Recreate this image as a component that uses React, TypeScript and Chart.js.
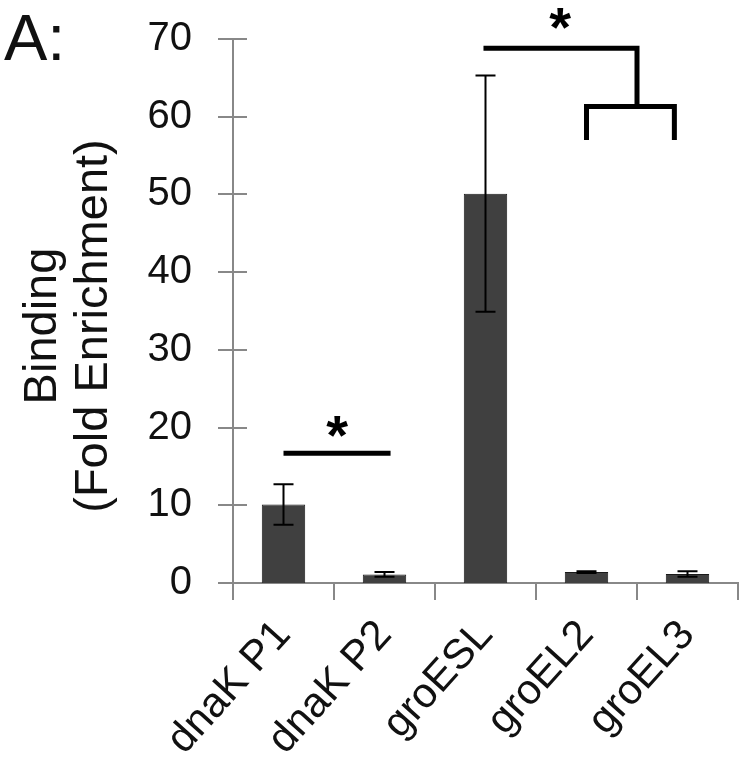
import React, { useEffect, useRef } from 'react';
import { Chart, registerables } from 'chart.js';

Chart.register(...registerables);

// ---- data ----
const categories = ['dnaK P1', 'dnaK P2', 'groESL', 'groEL2', 'groEL3'];
const bindingValues = [10.1, 1.1, 50.1, 1.4, 1.15];
const errorValues = [2.6, 0.3, 15.2, 0.1, 0.35];
const yMin = 0;
const yMax = 70;
const yStep = 10;
const panelLabel = 'A:';
const yTitleLines = ['Binding', '(Fold Enrichment)'];
const starText = '*';
// significance marks, in data units (category index, value)
const sigLine1 = { x0: 0, x1: 1.06, y: 16.7 };
const bracketTop = { x0: 1.98, x1: 3.5, y: 68.8 };
const bracketLow = { x0: 3.0, x1: 3.87, y: 61.3, legEnd: 57.0 };

const FONT = '"Liberation Sans", Arial, sans-serif';
const AXIS_COLOR = '#888888';
const TEXT_COLOR = '#111111';

const overlayPlugin = {
  id: 'overlay',
  afterDatasetsDraw(chart: any) {
    const ctx = chart.ctx as CanvasRenderingContext2D;
    const xs = chart.scales.x;
    const ys = chart.scales.y;
    const area = chart.chartArea;
    ctx.save();

    // axis tick marks
    ctx.strokeStyle = AXIS_COLOR;
    ctx.lineWidth = 2;
    for (let v = yMin; v <= yMax; v += yStep) {
      const y = Math.round(ys.getPixelForValue(v));
      ctx.beginPath();
      ctx.moveTo(area.left - 15, y);
      ctx.lineTo(area.left + 14, y);
      ctx.stroke();
    }
    for (let k = 0; k <= categories.length; k++) {
      const x = Math.round(xs.getPixelForValue(k - 0.5));
      ctx.beginPath();
      ctx.moveTo(x, area.bottom);
      ctx.lineTo(x, area.bottom + 17);
      ctx.stroke();
    }

    // error bars
    ctx.strokeStyle = '#000';
    ctx.lineWidth = 2;
    bindingValues.forEach((v, i) => {
      const e = errorValues[i];
      const x = xs.getPixelForValue(i);
      const yt = ys.getPixelForValue(v + e);
      const yb = ys.getPixelForValue(v - e);
      ctx.beginPath();
      ctx.moveTo(x, yt);
      ctx.lineTo(x, yb);
      ctx.moveTo(x - 10, yt);
      ctx.lineTo(x + 10, yt);
      ctx.moveTo(x - 10, yb);
      ctx.lineTo(x + 10, yb);
      ctx.stroke();
    });

    // significance lines
    ctx.strokeStyle = '#000';
    ctx.lineWidth = 5;
    ctx.lineCap = 'butt';
    ctx.beginPath();
    ctx.moveTo(xs.getPixelForValue(sigLine1.x0), ys.getPixelForValue(sigLine1.y));
    ctx.lineTo(xs.getPixelForValue(sigLine1.x1), ys.getPixelForValue(sigLine1.y));
    ctx.stroke();

    ctx.lineJoin = 'miter';
    ctx.beginPath();
    ctx.moveTo(xs.getPixelForValue(bracketTop.x0), ys.getPixelForValue(bracketTop.y));
    ctx.lineTo(xs.getPixelForValue(bracketTop.x1), ys.getPixelForValue(bracketTop.y));
    ctx.lineTo(xs.getPixelForValue(bracketTop.x1), ys.getPixelForValue(bracketLow.y));
    ctx.stroke();
    ctx.beginPath();
    ctx.moveTo(xs.getPixelForValue(bracketLow.x0), ys.getPixelForValue(bracketLow.legEnd));
    ctx.lineTo(xs.getPixelForValue(bracketLow.x0), ys.getPixelForValue(bracketLow.y));
    ctx.lineTo(xs.getPixelForValue(bracketLow.x1), ys.getPixelForValue(bracketLow.y));
    ctx.lineTo(xs.getPixelForValue(bracketLow.x1), ys.getPixelForValue(bracketLow.legEnd));
    ctx.stroke();

    // stars
    ctx.fillStyle = '#000';
    ctx.font = `bold 56px ${FONT}`;
    ctx.textAlign = 'center';
    ctx.textBaseline = 'alphabetic';
    ctx.fillText(
      starText,
      xs.getPixelForValue((sigLine1.x0 + sigLine1.x1) / 2),
      ys.getPixelForValue(sigLine1.y) + 1
    );
    ctx.fillText(
      starText,
      xs.getPixelForValue((bracketTop.x0 + bracketTop.x1) / 2),
      ys.getPixelForValue(bracketTop.y) - 2
    );

    // y title (two rotated lines)
    ctx.fillStyle = TEXT_COLOR;
    ctx.font = `47px ${FONT}`;
    const cy = (area.top + area.bottom) / 2 + 15;
    const baselines = [56, 107];
    yTitleLines.forEach((line, i) => {
      ctx.save();
      ctx.translate(baselines[i], cy);
      ctx.rotate(-Math.PI / 2);
      ctx.textAlign = 'center';
      ctx.textBaseline = 'alphabetic';
      ctx.fillText(line, 0, 0);
      ctx.restore();
    });

    // panel label
    ctx.font = `65px ${FONT}`;
    ctx.textAlign = 'left';
    ctx.textBaseline = 'alphabetic';
    ctx.fillStyle = TEXT_COLOR;
    ctx.fillText(panelLabel, 4, 60);

    ctx.restore();
  },
};

const zeroPadding = (scale: any) => {
  scale.paddingTop = 0;
  scale.paddingBottom = 0;
  scale.paddingLeft = 0;
  scale.paddingRight = 0;
};

export default function App() {
  const canvasRef = useRef<HTMLCanvasElement | null>(null);

  useEffect(() => {
    document.body.style.margin = '0';
    const canvas = canvasRef.current;
    if (!canvas) return;
    const chart = new Chart(canvas, {
      type: 'bar',
      data: {
        labels: categories,
        datasets: [
          {
            data: bindingValues,
            backgroundColor: '#404040',
            borderColor: '#1a1a1a',
            borderWidth: 1,
            categoryPercentage: 1,
            barPercentage: 0.43,
          },
        ],
      },
      options: {
        responsive: false,
        animation: false,
        layout: { padding: { top: 39, right: 14, left: 0, bottom: 0 } },
        plugins: {
          legend: { display: false },
          tooltip: { enabled: false },
          title: { display: false },
        },
        scales: {
          x: {
            grid: { display: false, drawTicks: false },
            border: { display: true, color: AXIS_COLOR, width: 2 },
            ticks: {
              autoSkip: false,
              minRotation: 48,
              maxRotation: 48,
              padding: 28,
              labelOffset: 0,
              color: TEXT_COLOR,
              font: { family: FONT, size: 42 },
            },
            afterFit: (scale: any) => {
              scale.height = 191;
              zeroPadding(scale);
            },
          },
          y: {
            min: yMin,
            max: yMax,
            grid: { display: false, drawTicks: false },
            border: { display: true, color: AXIS_COLOR, width: 2 },
            ticks: {
              stepSize: yStep,
              padding: 41,
              color: TEXT_COLOR,
              font: { family: FONT, size: 40 },
            },
            afterFit: (scale: any) => {
              scale.width = 233;
              zeroPadding(scale);
            },
          },
        },
      },
      plugins: [overlayPlugin],
    });
    return () => chart.destroy();
  }, []);

  return (
    <div style={{ width: 752, height: 774, position: 'relative', background: '#fff' }}>
      <canvas ref={canvasRef} width={752} height={774} />
    </div>
  );
}
